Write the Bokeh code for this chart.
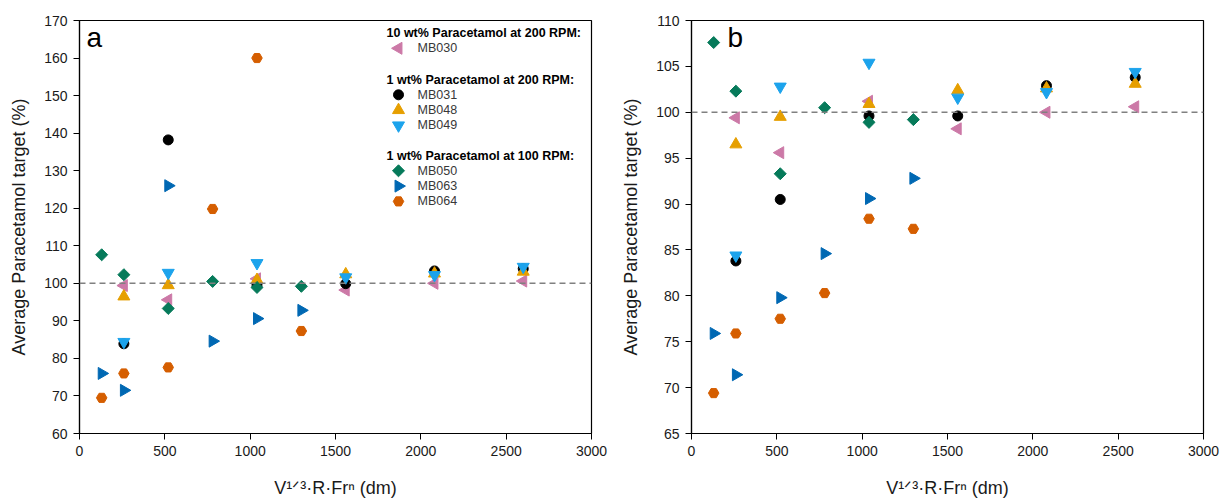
import numpy as np
from bokeh.plotting import figure
from bokeh.models import Span, Label, Range1d
from bokeh.layouts import row
from bokeh.embed import file_html
from bokeh.resources import INLINE

# ---------------- data ----------------
x_200 = [260, 520, 1040, 1560, 2080, 2600]   # MB030, MB031, MB048, MB049
x_100 = [130, 260, 520, 780, 1040, 1300]     # MB050, MB063, MB064

mb030 = [99.4, 95.6, 101.2, 98.2, 100.0, 100.6]
mb031_a = [83.9, 138.2, 99.6, 99.9, 103.3, 103.9]
mb031_b = [83.8, 90.5, 99.6, 99.6, 102.9, 103.8]
mb048 = [96.5, 99.5, 100.9, 102.4, 102.6, 103.1]
mb049 = [84.4, 102.8, 105.4, 101.6, 102.2, 104.4]
mb050 = [107.6, 102.3, 93.3, 100.5, 98.9, 99.2]
mb063_a = [76.0, 71.5, 126.0, 84.6, 90.6, 92.8]
mb063_b = [75.9, 71.4, 79.8, 84.6, 90.6, 92.8]
mb064_a = [69.5, 76.0, 77.6, 119.8, 160.0, 87.3]
mb064_b = [69.4, 75.9, 77.5, 80.3, 88.4, 87.3]

target = 100
x_ticks = [0, 500, 1000, 1500, 2000, 2500, 3000]
y_ticks_a = list(range(60, 171, 10))
y_ticks_b = list(range(65, 111, 5))

group_titles = ["10 wt% Paracetamol at 200 RPM:",
                "1 wt% Paracetamol at 200 RPM:",
                "1 wt% Paracetamol at 100 RPM:"]
group_members = [["MB030"], ["MB031", "MB048", "MB049"], ["MB050", "MB063", "MB064"]]

# ---------------- styles ----------------
FONT = "Liberation Sans"
FW, FH = 512, 413
STYLE = {
    "MB030": dict(marker="triangle", angle=np.pi / 2, size=12, color="#CC79A7"),
    "MB031": dict(marker="circle", angle=0.0, size=10, color="#000000"),
    "MB048": dict(marker="triangle", angle=0.0, size=12, color="#E69F00"),
    "MB049": dict(marker="inverted_triangle", angle=0.0, size=12, color="#1CA3EC"),
    "MB050": dict(marker="square", angle=np.pi / 4, size=8.5, color="#067A5A"),
    "MB063": dict(marker="triangle", angle=-np.pi / 2, size=12, color="#0068B3"),
    "MB064": dict(marker="hex", angle=0.0, size=10.5, color="#D55E00"),
}
# legend layout, pixels measured from the frame's top-left corner
LEG_TITLE_X = 307
LEG_GLYPH_X = 319
LEG_LABEL_X = 338
LEG_TITLE_Y = [12.5, 59, 135]
LEG_ROW = 15.3


def make_panel(letter, ylim, yticks, series, with_legend, letter_x):
    p = figure(frame_width=FW, frame_height=FH,
               x_range=(0, 3000), y_range=ylim,
               output_backend="svg", toolbar_location=None,
               min_border_left=79, min_border_right=21,
               min_border_top=20, min_border_bottom=65,
               background_fill_color="white", border_fill_color="white")
    p.xgrid.visible = False
    p.ygrid.visible = False
    p.outline_line_color = "black"
    p.outline_line_width = 1.2
    p.outline_line_alpha = 1

    for ax in (p.xaxis[0], p.yaxis[0]):
        ax.axis_line_color = "black"
        ax.axis_line_width = 1.2
        ax.major_tick_line_color = "black"
        ax.minor_tick_line_color = "black"
        ax.major_tick_out = 6
        ax.major_tick_in = 0
        ax.minor_tick_out = 4
        ax.minor_tick_in = 0
        ax.major_label_text_font = FONT
        ax.major_label_text_font_size = "14px"
        ax.major_label_text_color = "#1a1a1a"
        ax.axis_label_text_font = FONT
        ax.axis_label_text_font_size = "18px"
        ax.axis_label_text_font_style = "normal"
        ax.axis_label_text_color = "#1a1a1a"
    p.xaxis.ticker = x_ticks
    p.xaxis[0].ticker.num_minor_ticks = 2
    p.yaxis.ticker = yticks
    p.yaxis[0].ticker.num_minor_ticks = 2
    p.xaxis.major_label_standoff = 6
    p.yaxis.major_label_standoff = 6
    p.xaxis.axis_label = "V¹ᐟ³·R·Frⁿ (dm)"
    p.yaxis.axis_label = "Average Paracetamol target (%)"
    p.xaxis.axis_label_standoff = 19
    p.yaxis.axis_label_standoff = 12

    p.add_layout(Span(location=target, dimension="width", line_color="#808080",
                      line_width=1.6, line_dash="6 4"))

    for name, (xs, ys) in series.items():
        p.scatter(xs, ys, **STYLE[name])

    p.add_layout(Label(x=letter_x, y=381, x_units="screen", y_units="screen",
                       text=letter, text_font=FONT, text_font_size="28px",
                       text_color="black"))

    if with_legend:
        # pixel ranges (y measured downward from the frame top) for legend keys
        p.extra_x_ranges = {"legx": Range1d(0, FW)}
        p.extra_y_ranges = {"legy": Range1d(FH, 0)}
        for title, ty, members in zip(group_titles, LEG_TITLE_Y, group_members):
            p.add_layout(Label(x=LEG_TITLE_X, y=FH - ty, x_units="screen",
                               y_units="screen", text=title, text_font=FONT,
                               text_font_size="12.5px", text_font_style="bold",
                               text_color="black", text_baseline="middle"))
            for k, name in enumerate(members, start=1):
                ry = ty + k * LEG_ROW
                p.scatter([LEG_GLYPH_X], [ry], x_range_name="legx",
                          y_range_name="legy", **STYLE[name])
                p.add_layout(Label(x=LEG_LABEL_X, y=FH - ry, x_units="screen",
                                   y_units="screen", text=name, text_font=FONT,
                                   text_font_size="12.5px", text_color="#383838",
                                   text_baseline="middle"))
    return p


series_a = {"MB030": (x_200, mb030), "MB031": (x_200, mb031_a),
            "MB048": (x_200, mb048), "MB049": (x_200, mb049),
            "MB050": (x_100, mb050), "MB063": (x_100, mb063_a),
            "MB064": (x_100, mb064_a)}
series_b = {"MB030": (x_200, mb030), "MB031": (x_200, mb031_b),
            "MB048": (x_200, mb048), "MB049": (x_200, mb049),
            "MB050": (x_100, mb050), "MB063": (x_100, mb063_b),
            "MB064": (x_100, mb064_b)}

pa = make_panel("a", (60, 170), y_ticks_a, series_a, True, 7)
pb = make_panel("b", (65, 110), y_ticks_b, series_b, False, 36)

layout = row(pa, pb, spacing=0)
open("out.html", "w").write(file_html(layout, INLINE))
